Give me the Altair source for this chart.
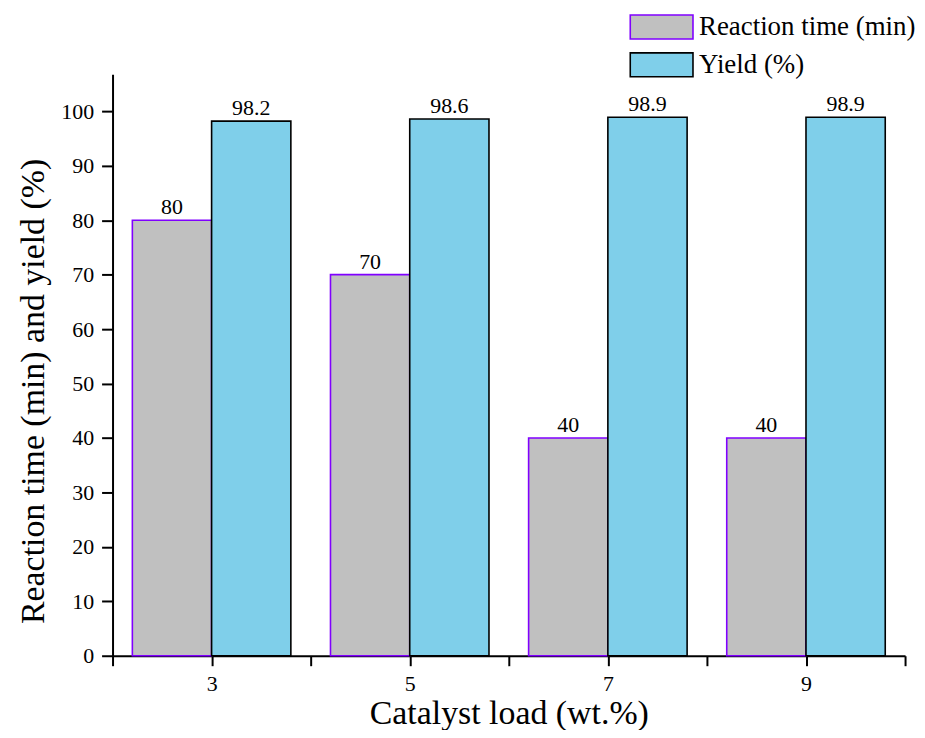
import altair as alt
import pandas as pd

# ---- data ----
loads = [3, 5, 7, 9]
reaction_time = [80, 70, 40, 40]
yield_pct = [98.2, 98.6, 98.9, 98.9]
series_names = ["Reaction time (min)", "Yield (%)"]
fill_colors = ["#C0C0C0", "#7FCFEA"]
stroke_colors = ["#8000FF", "#000000"]
x_tick_values = [2, 2.5, 3, 3.5, 4, 4.5, 5, 5.5, 6, 6.5, 7, 7.5, 8, 8.5, 9, 9.5, 10]
y_tick_values = [0, 5, 10, 15, 20, 25, 30, 35, 40, 45, 50, 55, 60, 65, 70, 75, 80, 85, 90, 95, 100, 105]

records = []
for load, rt, yp in zip(loads, reaction_time, yield_pct):
    records.append({"load": load, "series": series_names[0], "idx": 0, "value": rt, "label": f"{rt:g}"})
    records.append({"load": load, "series": series_names[1], "idx": 1, "value": yp, "label": f"{yp:g}"})
df = pd.DataFrame(records)

FONT = "Liberation Serif"
BAR_W = 0.8

x_scale = alt.Scale(domain=[2, 10], nice=False, zero=False)
y_scale = alt.Scale(domain=[0, 106.8], nice=False, zero=True)

x_axis = alt.Axis(
    values=x_tick_values,
    format="d",
    labelExpr="datum.value % 2 == 1 ? datum.label : ''",
    tickSize={"condition": {"test": "datum.value % 1 == 0", "value": 10}, "value": 5},
    labelPadding=8,
    titlePadding=2,
    labelFlush=False,
    labelOverlap=False,
)
y_axis = alt.Axis(
    values=y_tick_values,
    format="d",
    labelExpr="datum.value % 10 == 0 ? datum.label : ''",
    tickSize={"condition": {"test": "datum.value % 10 == 0", "value": 11}, "value": 5},
    labelPadding=8,
    titlePadding=10,
    titleY=318,
    labelOverlap=False,
)

legend = alt.Legend(
    title=None,
    orient="none",
    legendX=538,
    legendY=-61,
    symbolType="M-3.15,-1.2H3.15V1.2H-3.15Z",
    symbolSize=400,
    symbolStrokeWidth=1.6,
    labelFont=FONT,
    labelFontSize=27,
    labelColor="black",
    labelOffset=24,
    labelLimit=400,
    rowPadding=7,
    padding=0,
)

base = alt.Chart(df).transform_calculate(
    x0=f"datum.load - {BAR_W} + {BAR_W} * datum.idx",
    x1=f"datum.load + {BAR_W} * datum.idx",
    xm=f"datum.load - {BAR_W / 2} + {BAR_W} * datum.idx",
)

bars = base.mark_bar(strokeWidth=1.6, opacity=1).encode(
    x=alt.X("x0:Q", scale=x_scale, axis=x_axis, title="Catalyst load (wt.%)"),
    x2="x1:Q",
    y=alt.Y("value:Q", scale=y_scale, axis=y_axis, title="Reaction time (min) and yield (%)"),
    y2=alt.datum(0),
    fill=alt.Fill("series:N", scale=alt.Scale(domain=series_names, range=fill_colors), legend=legend),
    stroke=alt.Stroke("series:N", scale=alt.Scale(domain=series_names, range=stroke_colors), legend=legend),
)

labels = base.mark_text(font=FONT, fontSize=22, baseline="alphabetic", dy=-6, color="black").encode(
    x=alt.X("xm:Q", scale=x_scale),
    y=alt.Y("value:Q", scale=y_scale),
    text="label:N",
)

chart = alt.layer(bars, labels).properties(
    width=796,
    height=584,
    autosize=alt.AutoSizeParams(type="none"),
    padding={"left": 105, "top": 65, "right": 12, "bottom": 73},
    background="white",
).configure_view(stroke=None).configure_axis(
    domainColor="black",
    domainWidth=2,
    tickColor="black",
    tickWidth=2,
    grid=False,
    labelFont=FONT,
    labelFontSize=22,
    labelColor="black",
    titleFont=FONT,
    titleFontSize=34,
    titleFontWeight="normal",
    titleColor="black",
)

chart.save("out.html", embed_options={"renderer": "svg", "actions": False})
